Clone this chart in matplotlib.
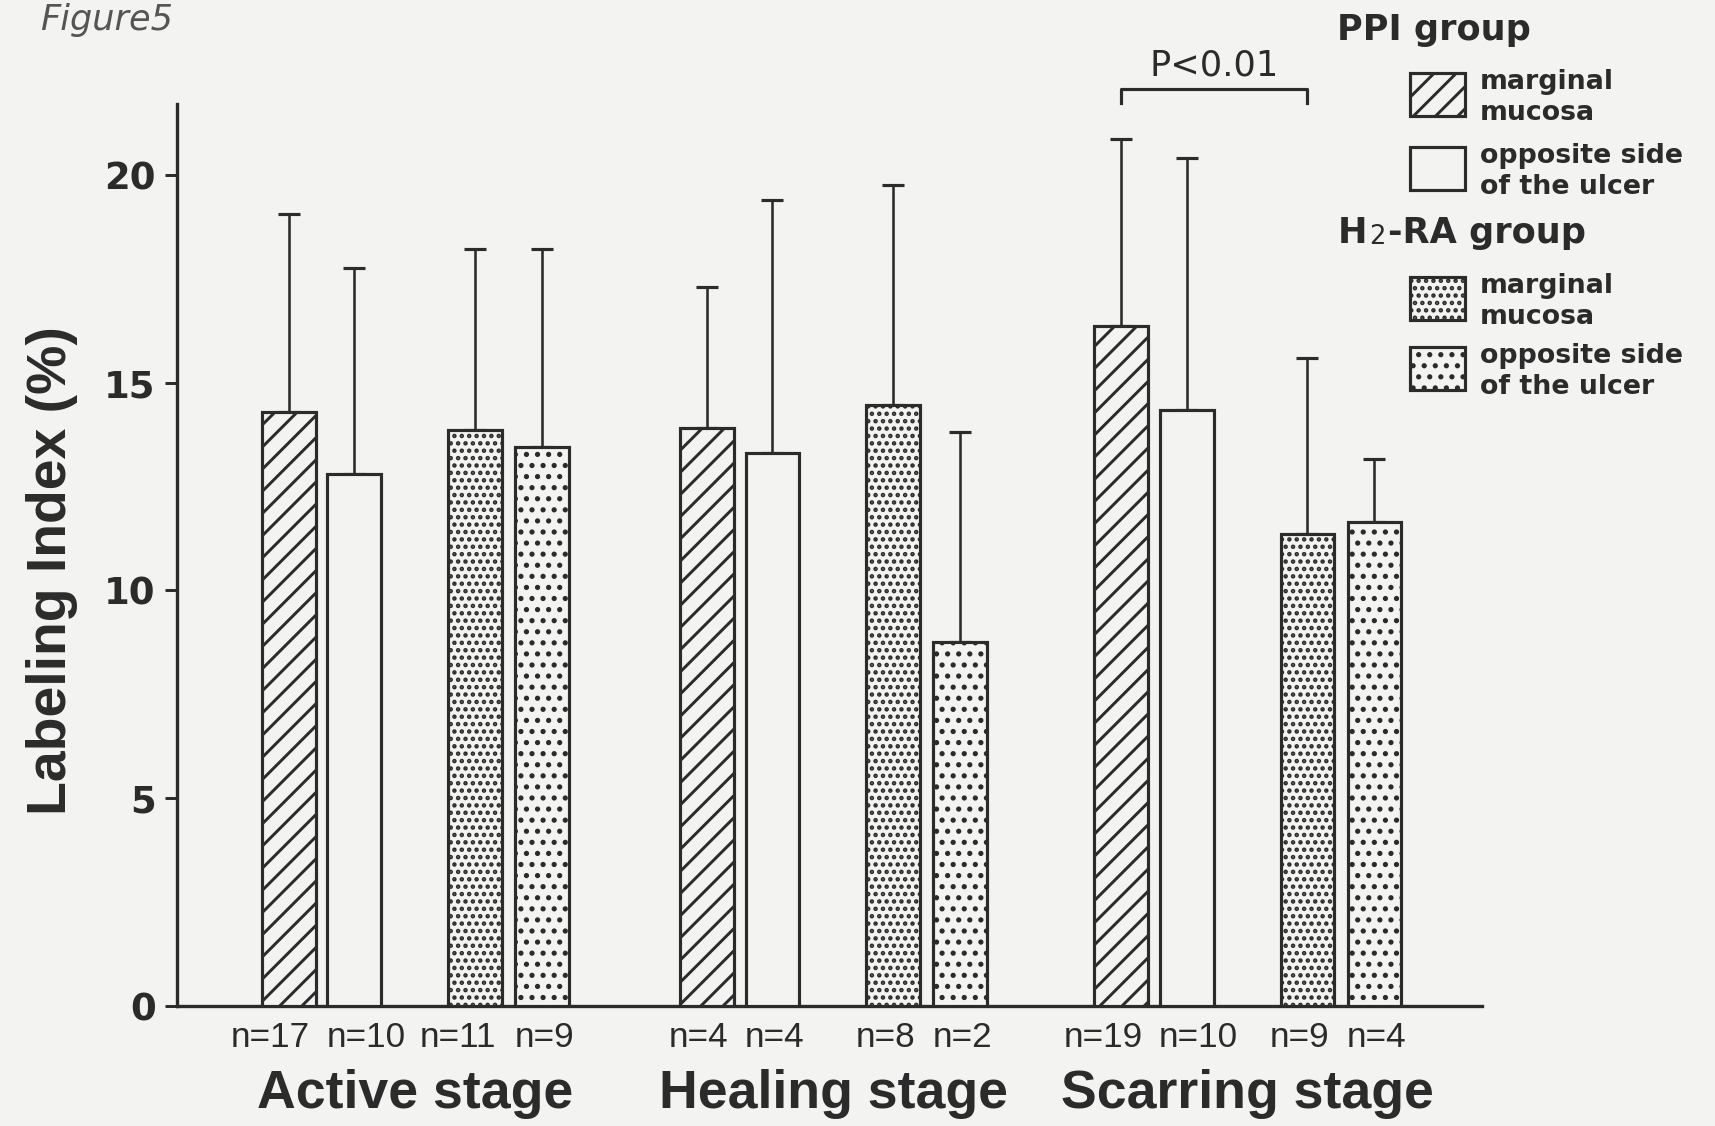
import matplotlib.pyplot as plt
from matplotlib.patches import Rectangle
import numpy as np

# values (mean and upper SD)
stages = ["Active stage", "Healing stage", "Scarring stage"]
ppi_marginal = [14.3, 13.9, 16.35]
ppi_opposite = [12.8, 13.3, 14.35]
h2_marginal = [13.85, 14.45, 11.35]
h2_opposite = [13.45, 8.75, 11.65]
ppi_marginal_sd = [4.75, 3.4, 4.5]
ppi_opposite_sd = [4.95, 6.1, 6.05]
h2_marginal_sd = [4.35, 5.3, 4.25]
h2_opposite_sd = [4.75, 5.05, 1.5]
ppi_marginal_n = [17, 4, 19]
ppi_opposite_n = [10, 4, 10]
h2_marginal_n = [11, 8, 9]
h2_opposite_n = [9, 2, 4]
yticks = [0, 5, 10, 15, 20]

PAPER = "#f3f3f1"
INK = "#2b2b2b"
DPI = 133
W, H = 1715, 1126

plt.rcParams["hatch.linewidth"] = 1.6
plt.rcParams["hatch.color"] = INK


def fx(px):
    return px / W


def fy(py):
    return 1 - py / H


fig = plt.figure(figsize=(W / DPI, H / DPI), dpi=DPI, facecolor=PAPER)
ax = fig.add_axes([0.1032, 0.1063, 0.761, 0.8014])
ax.set_facecolor(PAPER)

stage_x = np.array([0.0, 6.37, 12.68])
offsets = [0, 1, 2.84, 3.86]
series = [
    (ppi_marginal, ppi_marginal_sd, ppi_marginal_n, "//"),
    (ppi_opposite, ppi_opposite_sd, ppi_opposite_n, ""),
    (h2_marginal, h2_marginal_sd, h2_marginal_n, "..."),
    (h2_opposite, h2_opposite_sd, h2_opposite_n, ".."),
]

for k, (off, (means, sds, ns, hatch)) in enumerate(zip(offsets, series)):
    x = stage_x + off
    ax.bar(x, means, width=0.82, facecolor=PAPER, edgecolor=INK,
           linewidth=1.7, hatch=hatch, zorder=3)
    ax.errorbar(x, means, yerr=[np.zeros(len(means)), sds], fmt="none",
                ecolor=INK, elinewidth=1.4, capsize=6.2, capthick=1.7, zorder=2)
    # n labels: left bar of each pair right-aligned, right bar left-aligned
    if k % 2 == 0:
        shift, ha = 0.33, "right"
    else:
        shift, ha = -0.42, "left"
    for xi, n in zip(x, ns):
        ax.text(xi + shift, -0.75, f"n={n}", ha=ha, va="center",
                fontsize=19, family="Liberation Sans", color=INK)

for sx, name in zip(stage_x, stages):
    ax.text(sx + 1.93, -2.12, name, ha="center", va="center", fontsize=29,
            family="Liberation Sans", weight="bold", color=INK)

ax.set_xlim(-1.70, 18.18)
ax.set_ylim(0, 21.7)
ax.set_xticks([])
ax.set_yticks(yticks)
ax.tick_params(axis="y", direction="out", length=6.5, width=1.6, pad=5,
               labelsize=20, colors=INK)
for lab in ax.get_yticklabels():
    lab.set_family("DejaVu Sans")
    lab.set_weight("bold")
ax.spines["top"].set_visible(False)
ax.spines["right"].set_visible(False)
for s in ["left", "bottom"]:
    ax.spines[s].set_linewidth(1.8)
    ax.spines[s].set_color(INK)

fig.text(fx(52), fy(571), "Labeling Index (%)", rotation=90, ha="center",
         va="center", fontsize=30, family="Liberation Sans", weight="bold",
         color=INK)

# significance bracket
x1 = stage_x[2] + offsets[0]
x2 = stage_x[2] + offsets[2]
ax.plot([x1, x1, x2, x2], [21.73, 22.06, 22.06, 21.73], color=INK, lw=1.7,
        clip_on=False)
ax.text((x1 + x2) / 2, 22.62, "P<0.01", ha="center", va="center",
        fontsize=19, family="DejaVu Sans", color=INK)

# legend drawn by hand
fig.text(fx(1337), fy(30), "PPI group", ha="left", va="center", fontsize=19,
         family="DejaVu Sans", weight="bold", color=INK)
h = fig.text(fx(1338), fy(233), "H", ha="left", va="center", fontsize=19,
             family="DejaVu Sans", weight="bold", color=INK)
two = ax.annotate("2", xy=(1, 0), xycoords=h, xytext=(1, 0),
                  textcoords="offset points", ha="left", va="bottom",
                  fontsize=14, family="DejaVu Sans", color=INK,
                  annotation_clip=False)
ax.annotate("-RA group", xy=(1, 0), xycoords=two, xytext=(1, 0),
            textcoords="offset points", ha="left", va="bottom",
            fontsize=19, family="DejaVu Sans", weight="bold", color=INK,
            annotation_clip=False)

legend_items = [
    (73, "//", "marginal", "mucosa"),
    (147, "", "opposite side", "of the ulcer"),
    (277, "...", "marginal", "mucosa"),
    (347, "..", "opposite side", "of the ulcer"),
]
for top, hatch, l1, l2 in legend_items:
    fig.add_artist(Rectangle((fx(1410), fy(top + 43)), fx(55), 43 / H,
                             transform=fig.transFigure, facecolor=PAPER,
                             edgecolor=INK, linewidth=1.7, hatch=hatch))
    fig.text(fx(1480), fy(top + 9), l1, ha="left", va="center", fontsize=14.5,
             family="DejaVu Sans", weight="bold", color=INK)
    fig.text(fx(1480), fy(top + 40), l2, ha="left", va="center", fontsize=14.5,
             family="DejaVu Sans", weight="bold", color=INK)

fig.text(fx(40), fy(30), "Figure5", ha="left", va="baseline", fontsize=19,
         style="italic", family="DejaVu Sans", color="#555555")

fig.savefig("out.png", dpi=DPI, facecolor=PAPER)
